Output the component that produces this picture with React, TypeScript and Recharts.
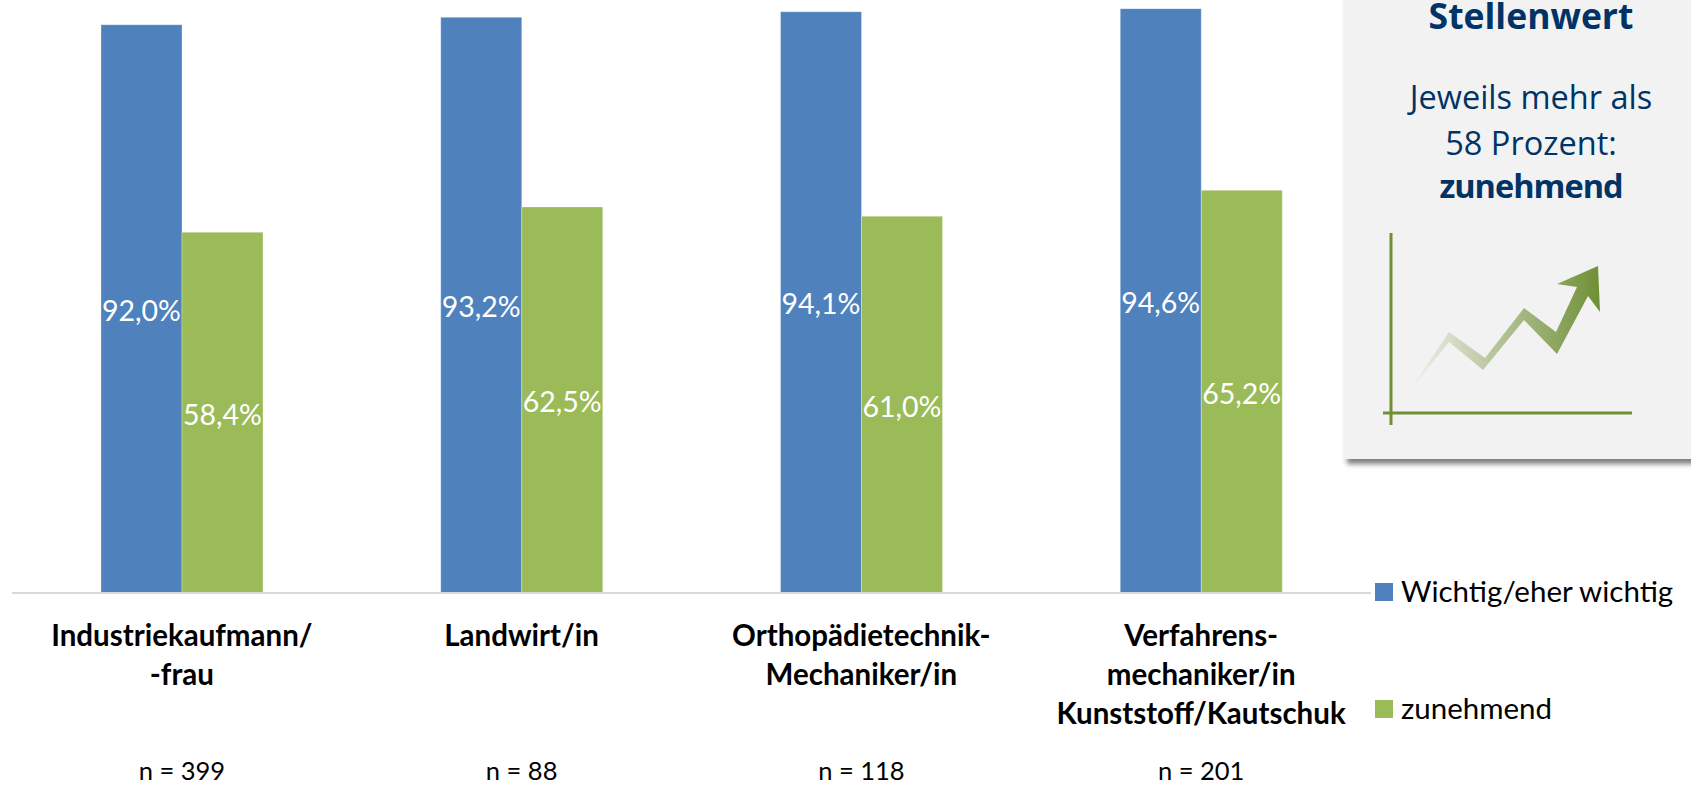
import { Bar, BarChart, LabelList, Legend, XAxis, YAxis } from "recharts";

const CATEGORIES = ["Industriekaufmann/ -frau", "Landwirt/in", "Orthopädietechnik-Mechaniker/in", "Verfahrensmechaniker/in Kunststoff/Kautschuk"];
const CATEGORY_LINES = [
  ["Industriekaufmann/", "-frau"],
  ["Landwirt/in"],
  ["Orthopädietechnik-", "Mechaniker/in"],
  ["Verfahrens-", "mechaniker/in", "Kunststoff/Kautschuk"],
];
const SAMPLE_SIZES = ["n = 399", "n = 88", "n = 118", "n = 201"];
const WICHTIG = [92.0, 93.2, 94.1, 94.6];
const ZUNEHMEND = [58.4, 62.5, 61.0, 65.2];

const data = CATEGORIES.map((category, i) => ({
  category,
  wichtig: WICHTIG[i],
  zunehmend: ZUNEHMEND[i],
}));

const SERIES = [
  { key: "wichtig", name: "Wichtig/eher wichtig", color: "#4f81bd" },
  { key: "zunehmend", name: "zunehmend", color: "#9bbb59" },
];

const FONT = "Lato, sans-serif";
const NAVY = "#003366";
const ICON_GREEN = "#6f8f35";

function CategoryTick({ x, y, index }: any) {
  return (
    <g fontFamily={FONT} fill="#000">
      {CATEGORY_LINES[index].map((line, i) => (
        <text key={line} x={x} y={y + 45 + i * 39} textAnchor="middle" fontSize={29.5} fontWeight={700}>
          {line}
        </text>
      ))}
      <text x={x} y={y + 179} textAnchor="middle" fontSize={25.5}>
        {SAMPLE_SIZES[index]}
      </text>
    </g>
  );
}

function LegendList({ payload }: any) {
  return (
    <div style={{ fontFamily: FONT, fontSize: 29.5, color: "#000" }}>
      {payload.map((entry: any, i: number) => (
        <div
          key={entry.value}
          style={{ position: "absolute", left: 0, top: i * 117, height: 18, display: "flex", alignItems: "center", whiteSpace: "nowrap" }}
        >
          <span style={{ width: 18, height: 18, background: entry.color, marginRight: 8 }} />
          <span style={{ position: "relative", top: -2 }}>{entry.value}</span>
        </div>
      ))}
    </div>
  );
}

function InfoBox() {
  const line = { position: "absolute", left: 0, width: 374, textAlign: "center", lineHeight: "44px", whiteSpace: "nowrap" } as const;
  return (
    <div
      style={{
        position: "absolute",
        left: 1344,
        top: -20,
        width: 370,
        height: 479,
        background: "#f2f2f2",
        boxShadow: "3px 5px 5px rgba(0,0,0,0.5)",
        color: NAVY,
        fontFamily: "'Open Sans', sans-serif",
        fontSize: 32.5,
      }}
    >
      <div style={{ ...line, top: 18, fontSize: 35.5, lineHeight: "34px", fontWeight: 700 }}>Stellenwert</div>
      <div style={{ ...line, top: 95 }}>Jeweils mehr als</div>
      <div style={{ ...line, top: 141 }}>58 Prozent:</div>
      <div style={{ ...line, top: 184, letterSpacing: -1, fontWeight: 700 }}>zunehmend</div>
      {/* small rising-arrow pictogram, decoration only */}
      <svg width={300} height={210} viewBox="0 0 300 210" style={{ position: "absolute", left: 0, top: 248 }}>
        <defs>
          <linearGradient id="arrowFade" x1="0" x2="1" y1="0" y2="0">
            <stop offset="0" stopColor={ICON_GREEN} stopOpacity={0} />
            <stop offset="1" stopColor={ICON_GREEN} />
          </linearGradient>
        </defs>
        <path d="M47 5V197M39 185H288" stroke={ICON_GREEN} strokeWidth={3} fill="none" />
        <path
          d="M64 165L105 104L141 130L180 80L212 104L233 59L213 56L254 38L256 84L244 68L213 126L180 92L139 142L105 114Z"
          fill="url(#arrowFade)"
        />
      </svg>
    </div>
  );
}

export default function App() {
  return (
    <div style={{ position: "absolute", left: 0, top: 0, width: 1691, height: 785, overflow: "hidden", background: "#fff" }}>
      <BarChart
        width={1691}
        height={785}
        data={data}
        barSize={81}
        barGap={0}
        margin={{ top: 0, right: 320, bottom: 0, left: 12 }}
      >
        <XAxis
          dataKey="category"
          height={192}
          interval={0}
          tickLine={false}
          axisLine={{ stroke: "#d9d9d9", strokeWidth: 2 }}
          tick={<CategoryTick />}
        />
        <YAxis hide domain={[0, 96]} />
        {/* vertical + center + middle keeps the legend from taking room off the plot */}
        <Legend
          layout="vertical"
          align="center"
          verticalAlign="middle"
          content={<LegendList />}
          wrapperStyle={{ position: "absolute", left: 1375, top: 583, width: 300, height: 140 }}
        />
        {SERIES.map((s) => (
          <Bar key={s.key} dataKey={s.key} name={s.name} fill={s.color} stroke="#fff" strokeOpacity={0.3} isAnimationActive={false}>
            <LabelList
              dataKey={s.key}
              position="center"
              fill="#fff"
              fontFamily={FONT}
              fontSize={28.5}
              dy={2}
              formatter={(v: number) => `${v.toFixed(1).replace(".", ",")}%`}
            />
          </Bar>
        ))}
      </BarChart>
      <InfoBox />
    </div>
  );
}
